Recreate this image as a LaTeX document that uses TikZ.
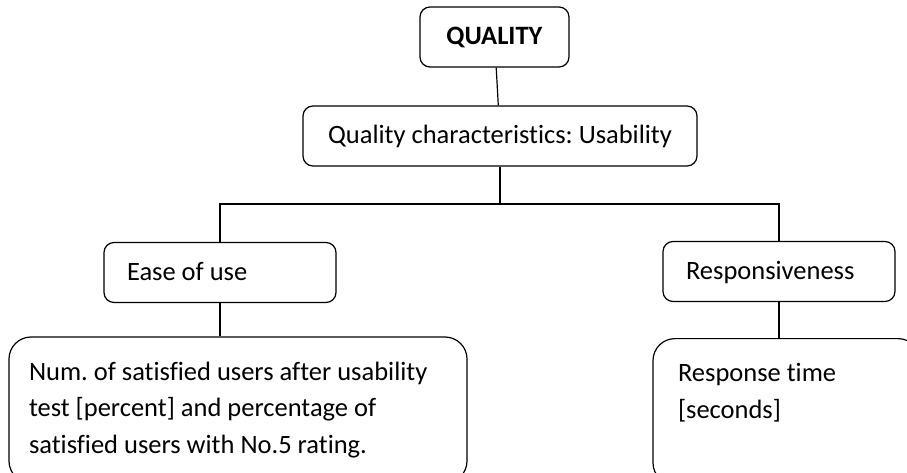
\documentclass[tikz,border=0pt]{standalone}
\usepackage{fontspec}
\setmainfont[Ligatures=NoCommon]{Carlito}
\usepackage{tikz}
\usetikzlibrary{calc,positioning}
\tikzset{box/.style={draw,thick,rounded corners=10pt,line width=1.2pt,inner sep=0pt,minimum height=60pt,text=black},
lbox/.style={box,align=flush left,inner xsep=23pt,text height=21pt,text depth=6pt},
metric/.style={draw,line width=1.2pt,rounded corners=22pt,align=flush left,inner sep=0pt,minimum height=146pt,text=black}}

\begin{document}
\frenchspacing
\begin{tikzpicture}[x=1pt,y=-1pt,font=\fontsize{26.5}{36.5}\selectfont]
		\useasboundingbox (0,0) rectangle (907,473);
		\clip (0,0) rectangle (907,473);

		\begin{scope}[every node/.style={box}]
			\node[minimum width=149pt] (Q) at (494.5,37) {\textbf{QUALITY}};
			\node[minimum width=394pt] (U) at (500,136) {Quality characteristics: Usability};
		\end{scope}

		\begin{scope}[every node/.style={lbox}]
			\node[text width=186pt] (E) at (220,272.5) {Ease of use};
			\node[text width=186pt] (R) at (779,271.5) {Responsiveness};
		\end{scope}

		\begin{scope}[every node/.style={metric}]
			\node[text width=418pt,inner xsep=20pt] (EM) at (238,410)
				{Num. of satisfied users after usability\\test [percent] and percentage of\\satisfied users with No.5 rating.};
			\node[text width=217pt,inner xsep=25pt,text depth=78pt,minimum height=0pt,inner ysep=25pt,anchor=north] (RM) at (786.5,338)
				{Response time\\{[seconds]}};
		\end{scope}

		\coordinate (S) at (500,204);

		\begin{scope}[every edge/.style={draw=black,line width=1.2pt}]
			\path [-] (Q) edge (U);
			\path [-] (U) edge (S);
			\path [-] (E) edge (E |- EM.north);
			\path [-] (R) edge (R |- RM.north);
		\end{scope}
		\draw[line width=1.2pt] (E.north) |- (S) -| (R.north);
	\end{tikzpicture}
\end{document}
